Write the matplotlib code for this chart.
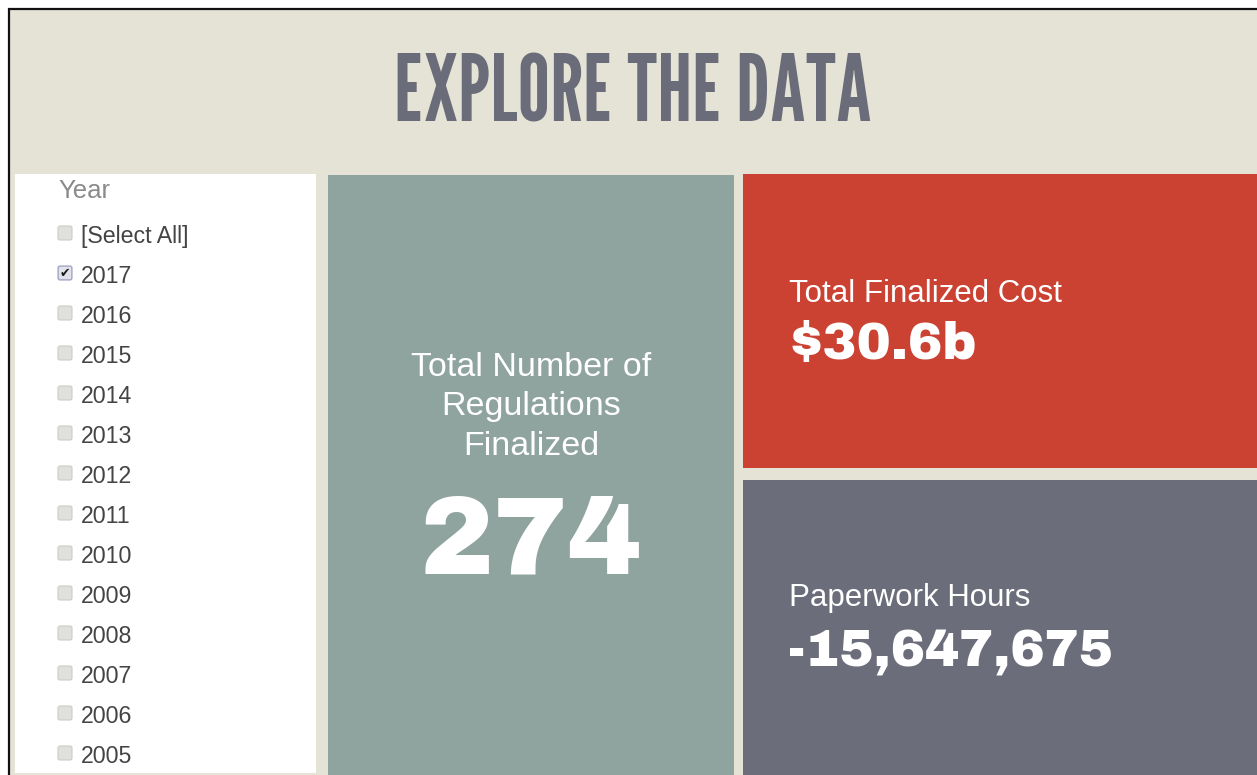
import matplotlib
matplotlib.use("Agg")
import matplotlib.pyplot as plt
from matplotlib.patches import Rectangle, FancyBboxPatch
from matplotlib import font_manager

# Dashboard content
title = "EXPLORE THE DATA"
filter_label = "Year"
filter_items = ["[Select All]", "2017", "2016", "2015", "2014", "2013", "2012",
                "2011", "2010", "2009", "2008", "2007", "2006", "2005"]
checked = ["2017"]

count_label = ["Total Number of", "Regulations", "Finalized"]
count_value = 274
cost_label = "Total Finalized Cost"
cost_value = 30.6  # billions of dollars
hours_label = "Paperwork Hours"
hours_value = -15647675

# Colours
beige = "#e5e2d6"
green_gray = "#8fa39f"
red = "#cb4233"
slate = "#6c6d7a"
title_color = "#6b6c79"


def pick(*fams):
    names = {f.name for f in font_manager.fontManager.ttflist}
    for f in fams:
        if f in names:
            return f
    return "DejaVu Sans"


title_font = pick("League Gothic", "Oswald", "DejaVu Sans")
label_font = pick("Liberation Sans", "Arimo", "DejaVu Sans")
big_font = pick("Archivo Black", "DejaVu Sans")

fig = plt.figure(figsize=(12.57, 7.75), dpi=100)
ax = fig.add_axes([0, 0, 1, 1])
ax.set_xlim(0, 1257)
ax.set_ylim(775, 0)
ax.axis("off")

# outer frame and background
ax.add_patch(Rectangle((9, 9), 1257, 775, facecolor=beige, edgecolor="#111111", linewidth=1.6))

ax.text(633, 121, title, family=title_font, fontsize=66, color=title_color,
        ha="center", va="baseline")

# filter panel
ax.add_patch(Rectangle((15, 174), 301, 599, facecolor="white", edgecolor="none"))
ax.text(58, 198, filter_label, family=label_font, fontsize=18.5,
        color="#8a8a8a", ha="left", va="baseline")
for i, item in enumerate(filter_items):
    base = 243 + i * 40
    is_checked = item in checked
    ax.add_patch(FancyBboxPatch((59, base - 16), 12, 12, boxstyle="round,pad=0.9,rounding_size=2",
                                facecolor="#e2e2ea" if is_checked else "#e0e0dc",
                                edgecolor="#a4a4c6" if is_checked else "#cfcfcb", linewidth=1.0))
    if is_checked:
        ax.text(65, base - 9.5, "\u2714", family="DejaVu Sans", fontsize=9, color="#1a1a1a",
                ha="center", va="center")
    ax.text(81, base, item, family=label_font, fontsize=16.7, color="#444444",
            ha="left", va="baseline")

# KPI tiles
ax.add_patch(Rectangle((328, 175), 406, 600, facecolor=green_gray, edgecolor="none"))
ax.add_patch(Rectangle((743, 174), 514, 294, facecolor=red, edgecolor="none"))
ax.add_patch(Rectangle((743, 480), 514, 295, facecolor=slate, edgecolor="none"))

for i, line in enumerate(count_label):
    ax.text(531, 376 + i * 39.5, line, family=label_font, fontsize=24.5, color="white",
            ha="center", va="baseline")
ax.text(531, 574, f"{count_value}", family=big_font, fontsize=80,
        color="white", ha="center", va="baseline")

ax.text(789, 302, cost_label, family=label_font, fontsize=22.5, color="white",
        ha="left", va="baseline")
ax.text(788, 359, f"${cost_value}b", family=big_font, fontsize=37,
        color="white", ha="left", va="baseline")

ax.text(789, 606, hours_label, family=label_font, fontsize=22.5, color="white",
        ha="left", va="baseline")
ax.text(788, 666, f"{hours_value:,}", family=big_font, fontsize=37,
        color="white", ha="left", va="baseline")

fig.savefig("out.png", dpi=100, facecolor="white")
